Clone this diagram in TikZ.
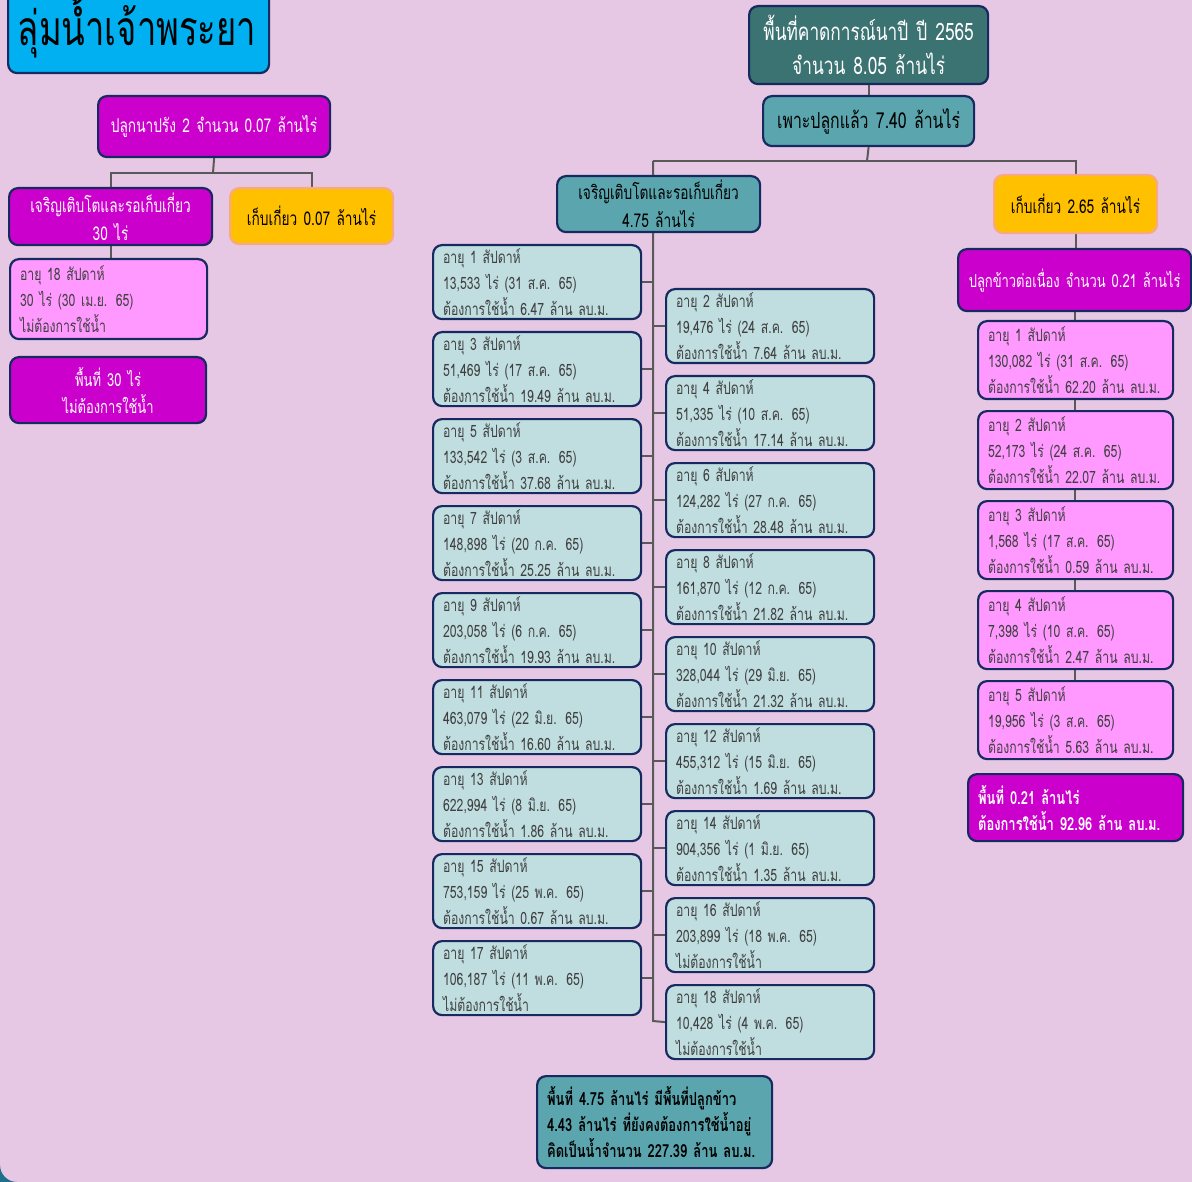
\documentclass[tikz,border=0pt]{standalone}
\usepackage{fontspec}
\newfontfamily\thai[Script=Thai,FakeStretch=0.72,WordSpace=0.75]{Loma}
\usetikzlibrary{backgrounds}
\definecolor{bgc}{RGB}{230,200,228}
\definecolor{cornerc}{RGB}{30,110,140}
\definecolor{navyb}{RGB}{22,42,96}
\definecolor{lteal}{RGB}{192,222,224}
\definecolor{mteal}{RGB}{91,165,174}
\definecolor{dteal}{RGB}{59,114,114}
\definecolor{magc}{RGB}{204,0,204}
\definecolor{pinkc}{RGB}{255,153,255}
\definecolor{yelc}{RGB}{255,192,0}
\definecolor{yelb}{RGB}{248,169,130}
\definecolor{cyanc}{RGB}{0,176,240}
\definecolor{txtgray}{RGB}{64,64,64}
\definecolor{lgray}{RGB}{89,89,89}
\tikzset{
  box/.style={draw=navyb, line width=2.2pt, rounded corners=9pt, anchor=north west,
    inner xsep=10pt, inner ysep=0pt, font=\thai\fontsize{17}{26}\selectfont},
  hdr/.style={box, align=center, font=\thai\fontsize{19}{28}\selectfont},
  ltb/.style={box, fill=lteal, text=txtgray, align=left, text width=188pt,
    minimum width=208pt, minimum height=74pt},
  pkb/.style={box, fill=pinkc, text=txtgray, align=left, text width=175pt,
    minimum width=195pt, minimum height=78pt},
  conn/.style={draw=lgray, line width=2pt}
}
\newcommand\wbox[7]{\node[#2] (#1) at (#3,#4) {อายุ #5 สัปดาห์\\#6\\#7};}
\begin{document}
\begin{tikzpicture}[x=1pt,y=-1pt]
\useasboundingbox (0,0) rectangle (1192,1182);
% title
\node[box, fill=cyanc, minimum width=261pt, minimum height=87pt] (title) at (7,-15) {};
\node[font=\thai\fontsize{48}{50}\selectfont, text=black, anchor=base, inner sep=0pt] (titletxt) at (137,46) {ลุ่มน้ำเจ้าพระยา};
% left branch
\node[hdr, fill=magc, text=white, text width=212pt, minimum width=232pt, minimum height=61pt] (lt) at (97,95) {ปลูกนาปรัง 2 จำนวน 0.07 ล้านไร่};
\node[hdr, fill=magc, text=white, text width=183pt, minimum width=203pt, minimum height=57pt] (lg) at (8,187) {เจริญเติบโตและรอเก็บเกี่ยว\\30 ไร่};
\node[hdr, draw=yelb, fill=yelc, text=black, text width=143pt, minimum width=163pt, minimum height=56pt] (ly) at (229,187) {เก็บเกี่ยว 0.07 ล้านไร่};
\node[pkb, text width=177pt, minimum width=197pt, minimum height=80pt] (lp) at (9,258) {อายุ 18 สัปดาห์\\30 ไร่ (30 เม.ย. 65)\\ไม่ต้องการใช้น้ำ};
\node[hdr, fill=magc, text=white, text width=176pt, minimum width=196pt, minimum height=66pt, font=\thai\fontsize{18}{27}\selectfont] (ls) at (9,356) {พื้นที่ 30 ไร่\\ไม่ต้องการใช้น้ำ};
% center top
\node[hdr, fill=dteal, text=white, text width=219pt, minimum width=239pt, minimum height=78pt,
  font=\thai\fontsize{24}{34}\selectfont] (ctop) at (748,5) {พื้นที่คาดการณ์นาปี ปี 2565\\จำนวน 8.05 ล้านไร่};
\node[hdr, fill=mteal, text=black, text width=191pt, minimum width=211pt, minimum height=50pt,
  font=\thai\fontsize{22}{26}\selectfont] (cplant) at (762,95) {เพาะปลูกแล้ว 7.40 ล้านไร่};
\node[hdr, fill=mteal, text=black, text width=183pt, minimum width=203pt, minimum height=56pt] (cg) at (556,175) {เจริญเติบโตและรอเก็บเกี่ยว\\4.75 ล้านไร่};
\node[hdr, draw=yelb, fill=yelc, text=black, text width=143pt, minimum width=163pt, minimum height=58pt] (cy) at (993,174) {เก็บเกี่ยว 2.65 ล้านไร่};
% left column
\wbox{w1}{ltb}{432}{244}{1}{13,533 ไร่ (31 ส.ค. 65)}{ต้องการใช้น้ำ 6.47 ล้าน ลบ.ม.}
\wbox{w3}{ltb}{432}{331}{3}{51,469 ไร่ (17 ส.ค. 65)}{ต้องการใช้น้ำ 19.49 ล้าน ลบ.ม.}
\wbox{w5}{ltb}{432}{418}{5}{133,542 ไร่ (3 ส.ค. 65)}{ต้องการใช้น้ำ 37.68 ล้าน ลบ.ม.}
\wbox{w7}{ltb}{432}{505}{7}{148,898 ไร่ (20 ก.ค. 65)}{ต้องการใช้น้ำ 25.25 ล้าน ลบ.ม.}
\wbox{w9}{ltb}{432}{592}{9}{203,058 ไร่ (6 ก.ค. 65)}{ต้องการใช้น้ำ 19.93 ล้าน ลบ.ม.}
\wbox{w11}{ltb}{432}{679}{11}{463,079 ไร่ (22 มิ.ย. 65)}{ต้องการใช้น้ำ 16.60 ล้าน ลบ.ม.}
\wbox{w13}{ltb}{432}{766}{13}{622,994 ไร่ (8 มิ.ย. 65)}{ต้องการใช้น้ำ 1.86 ล้าน ลบ.ม.}
\wbox{w15}{ltb}{432}{853}{15}{753,159 ไร่ (25 พ.ค. 65)}{ต้องการใช้น้ำ 0.67 ล้าน ลบ.ม.}
\wbox{w17}{ltb}{432}{940}{17}{106,187 ไร่ (11 พ.ค. 65)}{ไม่ต้องการใช้น้ำ}
% right column
\wbox{w2}{ltb}{665}{288}{2}{19,476 ไร่ (24 ส.ค. 65)}{ต้องการใช้น้ำ 7.64 ล้าน ลบ.ม.}
\wbox{w4}{ltb}{665}{375}{4}{51,335 ไร่ (10 ส.ค. 65)}{ต้องการใช้น้ำ 17.14 ล้าน ลบ.ม.}
\wbox{w6}{ltb}{665}{462}{6}{124,282 ไร่ (27 ก.ค. 65)}{ต้องการใช้น้ำ 28.48 ล้าน ลบ.ม.}
\wbox{w8}{ltb}{665}{549}{8}{161,870 ไร่ (12 ก.ค. 65)}{ต้องการใช้น้ำ 21.82 ล้าน ลบ.ม.}
\wbox{w10}{ltb}{665}{636}{10}{328,044 ไร่ (29 มิ.ย. 65)}{ต้องการใช้น้ำ 21.32 ล้าน ลบ.ม.}
\wbox{w12}{ltb}{665}{723}{12}{455,312 ไร่ (15 มิ.ย. 65)}{ต้องการใช้น้ำ 1.69 ล้าน ลบ.ม.}
\wbox{w14}{ltb}{665}{810}{14}{904,356 ไร่ (1 มิ.ย. 65)}{ต้องการใช้น้ำ 1.35 ล้าน ลบ.ม.}
\wbox{w16}{ltb}{665}{897}{16}{203,899 ไร่ (18 พ.ค. 65)}{ไม่ต้องการใช้น้ำ}
\wbox{w18}{ltb}{665}{984}{18}{10,428 ไร่ (4 พ.ค. 65)}{ไม่ต้องการใช้น้ำ}
% center summary
\node[box, fill=mteal, text=black, align=left, text width=215pt, minimum width=235pt, minimum height=92pt,
  font=\thai\bfseries\fontsize{18}{26}\selectfont] (csum) at (536,1075) {พื้นที่ 4.75 ล้านไร่ มีพื้นที่ปลูกข้าว\\4.43 ล้านไร่ ที่ยังคงต้องการใช้น้ำอยู่\\คิดเป็นน้ำจำนวน 227.39 ล้าน ลบ.ม.};
% right branch
\node[hdr, fill=magc, text=white, inner xsep=4pt, text width=225pt, minimum width=233pt, minimum height=62pt,
  font=\thai\fontsize{18}{27}\selectfont] (rmag) at (957,248) {ปลูกข้าวต่อเนื่อง จำนวน 0.21 ล้านไร่};
\wbox{p1}{pkb}{977}{320}{1}{130,082 ไร่ (31 ส.ค. 65)}{ต้องการใช้น้ำ 62.20 ล้าน ลบ.ม.}
\wbox{p2}{pkb}{977}{410}{2}{52,173 ไร่ (24 ส.ค. 65)}{ต้องการใช้น้ำ 22.07 ล้าน ลบ.ม.}
\wbox{p3}{pkb}{977}{500}{3}{1,568 ไร่ (17 ส.ค. 65)}{ต้องการใช้น้ำ 0.59 ล้าน ลบ.ม.}
\wbox{p4}{pkb}{977}{590}{4}{7,398 ไร่ (10 ส.ค. 65)}{ต้องการใช้น้ำ 2.47 ล้าน ลบ.ม.}
\wbox{p5}{pkb}{977}{680}{5}{19,956 ไร่ (3 ส.ค. 65)}{ต้องการใช้น้ำ 5.63 ล้าน ลบ.ม.}
\node[box, fill=magc, text=white, align=left, text width=195pt, minimum width=215pt, minimum height=67pt,
  font=\thai\bfseries\fontsize{18}{26}\selectfont] (rsum) at (967,773) {พื้นที่ 0.21 ล้านไร่\\ต้องการใช้น้ำ 92.96 ล้าน ลบ.ม.};
% background and connectors
\begin{scope}[on background layer]
  \fill[bgc] (0,0) rectangle (1192,1182);
  \fill[cornerc] (0,1182) -- (0,1165) arc[start angle=180, end angle=90, radius=17] -- cycle;
  \coordinate (lj) at (213,173);
  \draw[conn] (lt.south) -- (lj);
  \draw[conn] (lg.north) |- (lj) -| (ly.north);
  \draw[conn] (lg.south) -- (lg.south |- lp.north);
  \draw[conn] (ctop.south) -- (cplant.north);
  \coordinate (cj) at (867,161);
  \coordinate (tt) at (653,161);
  \coordinate (tb) at (653,1021);
  \draw[conn] (cplant.south) -- (cj);
  \draw[conn] (tt) -- (cj) -| (cy.north);
  \draw[conn] (tt) -- (tb) -- (w18.west);
  \foreach \n in {w1,w3,w5,w7,w9,w11,w13,w15,w17}{\draw[conn] (\n.east) -- (\n.east -| tt);}
  \foreach \n in {w2,w4,w6,w8,w10,w12,w14,w16}{\draw[conn] (\n.west) -- (\n.west -| tt);}
  \draw[conn] (cy.south) -- (cy.south |- rmag.north);
  \draw[conn] (rmag.south) -- (rmag.south |- p5.north);
\end{scope}
\end{tikzpicture}
\end{document}
